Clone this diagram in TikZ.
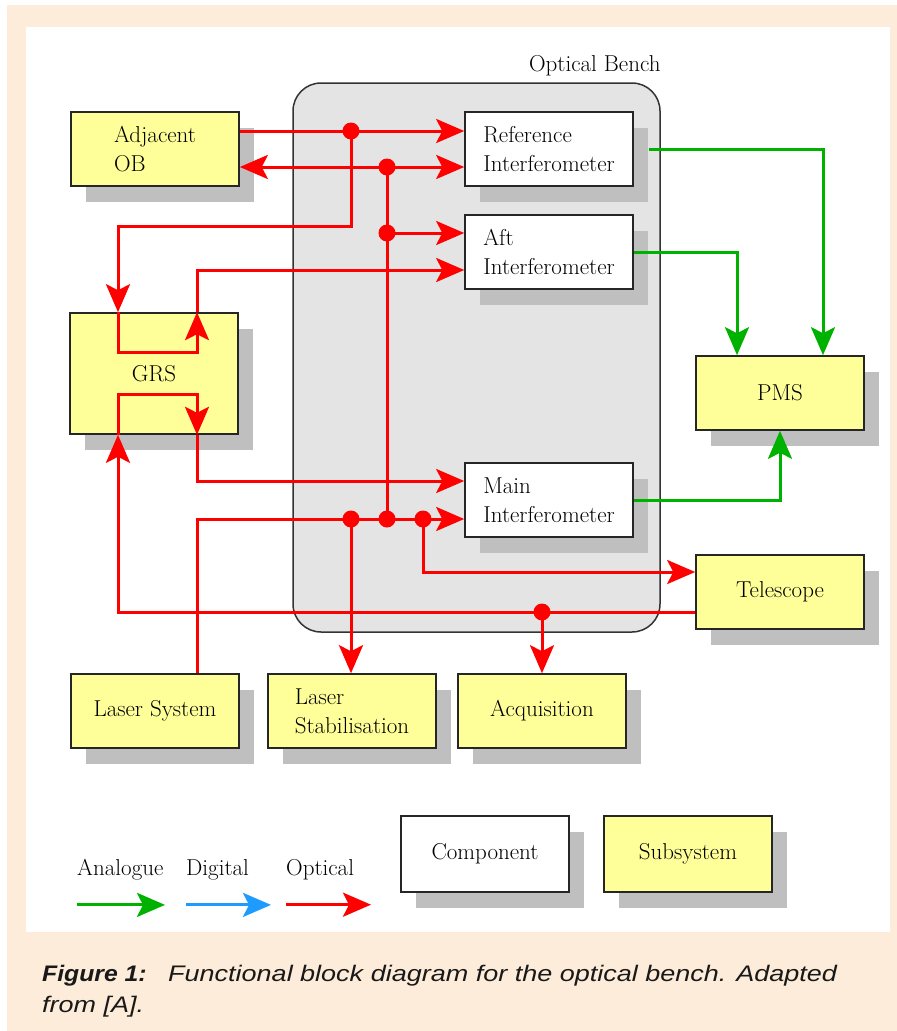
\documentclass[tikz,border=0pt]{standalone}
\usepackage{fontspec}
\newfontfamily\capfont[FakeStretch=1.2]{Liberation Sans}
\newfontfamily\capbold[FakeStretch=1.1]{Liberation Sans}
\usetikzlibrary{arrows.meta,shadows}
\definecolor{pagetint}{RGB}{253,236,217}
\definecolor{subsysyellow}{RGB}{255,255,153}
\definecolor{shadowgrey}{RGB}{191,191,191}
\definecolor{benchgrey}{RGB}{228,228,228}
\definecolor{optred}{RGB}{255,0,0}
\definecolor{anagreen}{RGB}{0,178,0}
\definecolor{digblue}{RGB}{30,155,255}
\begin{document}
\begin{tikzpicture}[x=1pt,y=-1pt,
  box/.style={draw=black!85, line width=1.6pt, minimum width=168pt, minimum height=74pt,
    align=left, font=\fontsize{23}{29}\selectfont,
    drop shadow={shadow xshift=15pt, shadow yshift=-16pt, fill=shadowgrey, opacity=1}},
  comp/.style={box, fill=white},
  subsys/.style={box, fill=subsysyellow},
  tip/.style={-{Stealth[length=28pt, width=24pt, inset=6pt]}},
  opt/.style={optred, line width=3pt, tip},
  ana/.style={anagreen, line width=3pt, tip},
  dig/.style={digblue, line width=3pt, tip},
  redline/.style={optred, line width=3pt},
  lbl/.style={font=\fontsize{23}{29}\selectfont, inner sep=0pt},
  caption/.style={anchor=base west, inner sep=0pt, text=black!90}]
\useasboundingbox (0,0) rectangle (897,1031);
\fill[white] (0,0) rectangle (897,1031);
\fill[pagetint] (7,5) rectangle (897,1031);
\fill[white] (26,27) rectangle (890,932);

% optical bench
\node[draw=black!80, fill=benchgrey, line width=1.5pt, rounded corners=28pt,
  minimum width=367pt, minimum height=549pt] (bench) at (476.5,357.5) {};
\node[lbl, anchor=base east] (benchlbl) at ([yshift=11pt]bench.north east) {Optical Bench};

\node[subsys] (adj) at (155,149) {Adjacent\\OB};
\node[subsys, minimum height=121pt] (grs) at (154,373.5) {GRS};
\node[comp] (ref) at (549,149) {Reference\\Interferometer};
\node[comp] (aft) at (549,252) {Aft\\Interferometer};
\node[comp] (main) at (549,500) {Main\\Interferometer};
\node[subsys] (pms) at (780,393) {PMS};
\node[subsys] (tel) at (780,592) {Telescope};
\node[subsys] (lsys) at (155,711) {Laser System};
\node[subsys] (lstab) at (352,711) {Laser\\Stabilisation};
\node[subsys] (acq) at (542,711) {Acquisition};

\coordinate (gl) at (118,0);
\coordinate (gr) at (197,0);
\coordinate (d1) at (351,131);
\coordinate (d2) at (387,167);
\coordinate (d3) at (387,233);
\coordinate (d4) at (351,519);
\coordinate (d5) at (387,519);
\coordinate (d6) at (423,519);
\coordinate (d7) at (542,612);

% optical
\draw[opt] (adj.east |- d1) -- (ref.west |- d1);
\draw[opt] (d1) -- (351,226) -| (gl |- grs.north);
\draw[opt] (gl |- grs.north) -- (118,352) -| (gr |- grs.north);
\draw[opt] (gr |- grs.north) |- ([yshift=-18pt]aft.west);
\draw[redline] (d5) -- (d2);
\draw[opt] (d2) -- (adj.east |- d2);
\draw[opt] (d2) -- (ref.west |- d2);
\draw[opt] (d3) -- (aft.west |- d3);
\draw[opt] (gr |- lsys.north) |- (main.west |- d5);
\draw[opt] (d4) -- (d4 |- lstab.north);
\draw[opt] (d6) |- ([yshift=20pt]tel.west);
\draw[opt] ([yshift=-20pt]tel.west) -| (gl |- grs.south);
\draw[opt] (gl |- grs.south) -- (118,394) -| (gr |- grs.south);
\draw[opt] (gr |- grs.south) |- ([yshift=19pt]main.west);
\draw[opt] (d7) -- (acq.north);
\foreach \d in {d1,d2,d3,d4,d5,d6,d7}
  \fill[optred] (\d) circle (8.5pt);

% analogue
\draw[ana] ([xshift=15pt]ref.east) -| ([xshift=43pt]pms.north);
\draw[ana] (aft.east) -| ([xshift=-43pt]pms.north);
\draw[ana] (main.east) -| (pms.south);

% legend
\node[lbl, anchor=base west] (lana) at (77,875) {Analogue};
\node[lbl, anchor=base west] (ldig) at (186,875) {Digital};
\node[lbl, anchor=base west] (lopt) at (286,875) {Optical};
\draw[ana] ([yshift=-25pt]lana.south west) -- ++(88,0);
\draw[dig] ([yshift=-25pt]ldig.south west) -- ++(85,0);
\draw[opt] ([yshift=-25pt]lopt.south west) -- ++(85,0);
\node[comp, minimum height=76pt] (lcomp) at (485,854) {Component};
\node[subsys, minimum height=76pt] (lsub) at (688,854) {Subsystem};

% caption
\node[caption, font=\capbold\fontsize{22.5}{31}\selectfont] (capa) at (42,981) {\textbf{\textit{Figure 1:}}};
\node[caption, font=\capfont\fontsize{22.5}{31}\selectfont] (capb) at (168,981) {\textit{Functional block diagram for the optical bench. Adapted}};
\node[caption, font=\capfont\fontsize{22.5}{31}\selectfont] (capc) at (42,1012) {\textit{from [A].}};
\end{tikzpicture}
\end{document}
